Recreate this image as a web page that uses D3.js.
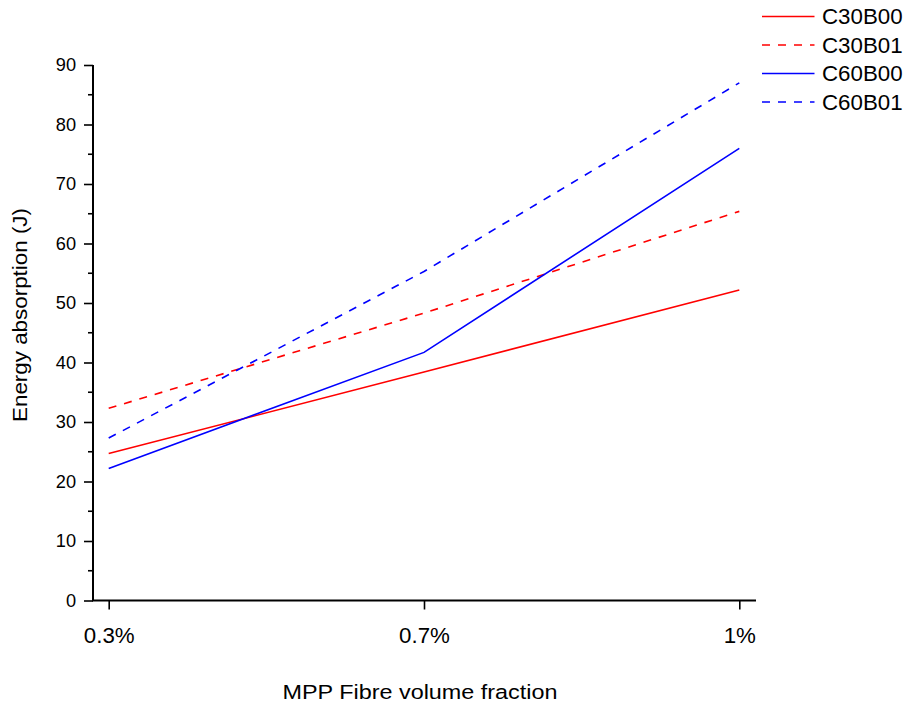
<!DOCTYPE html>
<html>
<head>
<meta charset="utf-8">
<script src="https://cdn.jsdelivr.net/npm/d3@7"></script>
<style>
  html, body { margin: 0; padding: 0; background: #fff; }
  svg { display: block; font-family: "Liberation Sans", Arial, sans-serif; }
</style>
</head>
<body>
<svg id="chart" width="908" height="706"></svg>
<script>
// Fibre volume fractions (categorical x axis)
const categories = ["0.3%", "0.7%", "1%"];
// Energy absorption (J) per mix
const c30b00 = [24.7, 38.4, 52.2];
const c30b01 = [32.3, 48.3, 65.4];
const c60b00 = [22.2, 41.7, 76.0];
const c60b01 = [27.3, 55.3, 87.0];
const seriesNames = ["C30B00", "C30B01", "C60B00", "C60B01"];
const yTicks = [0, 10, 20, 30, 40, 50, 60, 70, 80, 90];

const series = [
  { name: seriesNames[0], values: c30b00, color: "#ff0000", dash: null },
  { name: seriesNames[1], values: c30b01, color: "#ff0000", dash: "8,8" },
  { name: seriesNames[2], values: c60b00, color: "#0000ff", dash: null },
  { name: seriesNames[3], values: c60b01, color: "#0000ff", dash: "8,8" }
];

const svg = d3.select("#chart");
const plotLeft = 93, plotRight = 756, plotTop = 65, plotBottom = 600.5;
const font = "Liberation Sans, Arial, sans-serif";

const x = d3.scalePoint().domain(categories).range([108.7, 739.3]);
const y = d3.scaleLinear().domain([0, 90]).range([plotBottom, plotTop]);

// Y axis with minor ticks
const yAxisG = svg.append("g").attr("transform", `translate(${plotLeft},0)`);
yAxisG.call(d3.axisLeft(y).tickValues(yTicks).tickSize(9).tickPadding(8))
  .call(g => g.select(".domain").remove());
yAxisG.selectAll(".tick line").attr("stroke", "#000").attr("stroke-width", 1.6);
yAxisG.selectAll(".tick text").attr("font-size", 18.2).attr("fill", "#000")
  .attr("font-family", font);
yAxisG.selectAll(".minor").data(d3.range(5, 90, 10)).enter().append("line")
  .attr("x1", -5).attr("x2", 0)
  .attr("y1", d => y(d)).attr("y2", d => y(d))
  .attr("stroke", "#000").attr("stroke-width", 1.6);
yAxisG.append("line").attr("x1", 0).attr("x2", 0).attr("y1", plotTop).attr("y2", plotBottom)
  .attr("stroke", "#000").attr("stroke-width", 2);

// X axis
const xAxisG = svg.append("g").attr("transform", `translate(0,${plotBottom})`);
xAxisG.call(d3.axisBottom(x).tickSize(9).tickPadding(18))
  .call(g => g.select(".domain").remove());
xAxisG.selectAll(".tick line").attr("stroke", "#000").attr("stroke-width", 1.6);
xAxisG.selectAll(".tick text").attr("font-size", 22.3).attr("fill", "#000")
  .attr("font-family", font);
xAxisG.append("line").attr("x1", plotLeft - 1).attr("x2", plotRight).attr("y1", 0).attr("y2", 0)
  .attr("stroke", "#000").attr("stroke-width", 2);

// Axis titles
svg.append("text")
  .attr("transform", `translate(27,315) rotate(-90)`)
  .attr("text-anchor", "middle").attr("font-size", 20.5).attr("fill", "#000")
  .attr("textLength", 214).attr("lengthAdjust", "spacingAndGlyphs")
  .text("Energy absorption (J)");
svg.append("text")
  .attr("x", 420).attr("y", 699)
  .attr("text-anchor", "middle").attr("font-size", 20.5).attr("fill", "#000")
  .attr("textLength", 275).attr("lengthAdjust", "spacingAndGlyphs")
  .text("MPP Fibre volume fraction");

// Lines
const line = d3.line()
  .x((d, i) => x(categories[i]))
  .y(d => y(d));

svg.append("g").selectAll("path").data(series).enter().append("path")
  .attr("d", d => line(d.values))
  .attr("fill", "none")
  .attr("stroke", d => d.color)
  .attr("stroke-width", 1.6)
  .attr("stroke-dasharray", d => d.dash);

// Legend
const legend = svg.append("g");
const lg = legend.selectAll("g").data(series).enter().append("g")
  .attr("transform", (d, i) => `translate(762,${16.5 + i * 28.5})`);
lg.append("line").attr("x1", 0).attr("x2", 52.5).attr("y1", 0).attr("y2", 0)
  .attr("stroke", d => d.color).attr("stroke-width", 1.6)
  .attr("stroke-dasharray", d => d.dash);
lg.append("text").attr("x", 60).attr("y", 7.8).attr("font-size", 22.3).attr("fill", "#000")
  .attr("font-family", font)
  .text(d => d.name);
</script>
</body>
</html>
